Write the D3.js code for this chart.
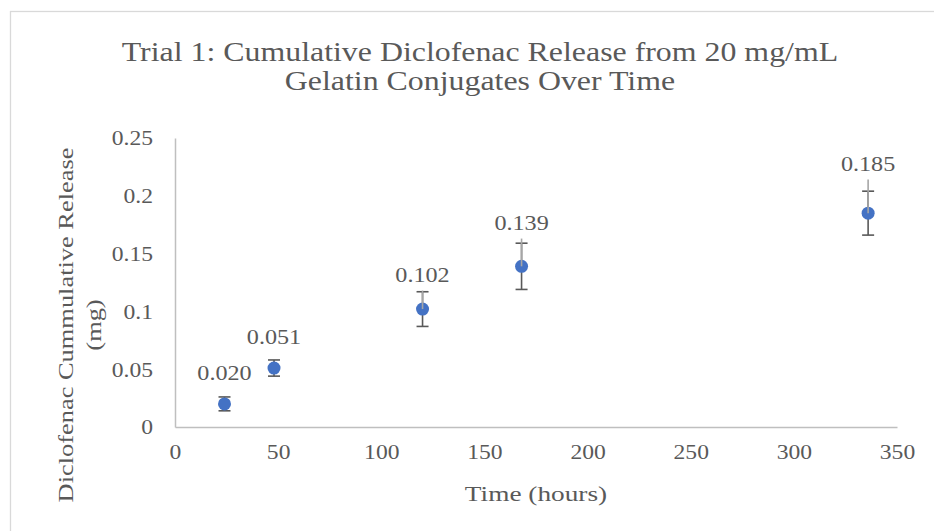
<!DOCTYPE html>
<html>
<head>
<meta charset="utf-8">
<script src="https://cdn.jsdelivr.net/npm/d3@7"></script>
<style>
  html, body { margin: 0; padding: 0; background: #fff; }
  svg { display: block; }
</style>
</head>
<body>
<div id="chart"></div>
<script>
(function () {
  'use strict';

  // ── Data ──
  var hours = [24, 48, 120, 168, 336];
  var release = [0.020, 0.051, 0.102, 0.139, 0.185];
  var errorBar = [0.006, 0.007, 0.015, 0.020, 0.019];
  var upperLine = [0, 0, 0.016, 0.024, 0.029];
  var xTicks = [0, 50, 100, 150, 200, 250, 300, 350];
  var yTicks = [0, 0.05, 0.1, 0.15, 0.2, 0.25];
  var yTickLabels = ['0', '0.05', '0.1', '0.15', '0.2', '0.25'];

  var titleLines = ['Trial 1: Cumulative Diclofenac Release from 20 mg/mL', 'Gelatin Conjugates Over Time'];
  var xTitle = 'Time (hours)';
  var yTitleLines = ['Diclofenac Cummulative Release', '(mg)'];

  // ── Constants ──
  var WIDTH = 934;
  var HEIGHT = 531;
  var PLOT = { left: 175, right: 897, top: 138, bottom: 427 };
  var FONT = '"Liberation Serif", "Times New Roman", serif';
  var TEXT_COLOR = '#595959';
  var AXIS_COLOR = '#bfbfbf';
  var MARKER_COLOR = '#4472c4';
  var ERR_COLOR = '#595959';
  var LINE_COLOR = '#a6a6a6';

  var data = hours.map(function (h, i) {
    return { h: h, v: release[i], e: errorBar[i], up: upperLine[i] };
  });

  // widen text along its baseline (the original serif face runs wider)
  function stretch(sel, factor) {
    sel.each(function () {
      var len = this.getComputedTextLength();
      d3.select(this)
        .attr('textLength', len * factor)
        .attr('lengthAdjust', 'spacingAndGlyphs');
    });
  }

  var svg = d3.select('#chart').append('svg')
    .attr('width', WIDTH)
    .attr('height', HEIGHT);

  // chart area border
  svg.append('rect')
    .attr('x', 10.5).attr('y', 11.5)
    .attr('width', WIDTH + 20).attr('height', HEIGHT + 20)
    .attr('fill', '#fff')
    .attr('stroke', '#d9d9d9')
    .attr('stroke-width', 1.3);

  var x = d3.scaleLinear().domain([0, 350]).range([PLOT.left, PLOT.right]);
  var y = d3.scaleLinear().domain([0, 0.25]).range([PLOT.bottom, PLOT.top]);

  // ── Axes ──
  var xG = svg.append('g')
    .attr('transform', 'translate(0,' + PLOT.bottom + ')')
    .call(d3.axisBottom(x).tickValues(xTicks).tickSize(0).tickFormat(d3.format('d')));
  xG.selectAll('.tick text')
    .attr('y', 32).attr('dy', null)
    .attr('font-size', '20px');

  var yG = svg.append('g')
    .attr('transform', 'translate(' + PLOT.left + ',0)')
    .call(d3.axisLeft(y).tickValues(yTicks).tickSize(0)
      .tickFormat(function (d, i) { return yTickLabels[i]; }));
  yG.selectAll('.tick text')
    .attr('x', -22)
    .attr('dy', '0.34em')
    .attr('font-size', '20px');

  [xG, yG].forEach(function (ax) {
    ax.attr('font-family', FONT);
    ax.selectAll('.tick text').attr('fill', TEXT_COLOR);
    ax.select('.domain').attr('stroke', AXIS_COLOR).attr('stroke-width', 1.5);
  });

  // ── Error bars ──
  var CAP = 6;
  var errG = svg.append('g').attr('stroke', ERR_COLOR).attr('stroke-width', 1.6);
  data.forEach(function (d) {
    var cx = x(d.h);
    var y0 = y(d.v - d.e);
    var y1 = y(d.v + d.e);
    errG.append('line').attr('x1', cx).attr('x2', cx).attr('y1', y0).attr('y2', y1);
    errG.append('line').attr('x1', cx - CAP).attr('x2', cx + CAP).attr('y1', y0).attr('y2', y0);
    errG.append('line').attr('x1', cx - CAP).attr('x2', cx + CAP).attr('y1', y1).attr('y2', y1);
  });

  // ── Markers ──
  svg.append('g').selectAll('circle')
    .data(data)
    .join('circle')
    .attr('cx', function (d) { return x(d.h); })
    .attr('cy', function (d) { return y(d.v); })
    .attr('r', 6.5)
    .attr('fill', MARKER_COLOR);

  // light line running up from the point
  svg.append('g').selectAll('line')
    .data(data.filter(function (d) { return d.up > 0; }))
    .join('line')
    .attr('x1', function (d) { return x(d.h); })
    .attr('x2', function (d) { return x(d.h); })
    .attr('y1', function (d) { return y(d.v); })
    .attr('y2', function (d) { return y(d.v + d.up); })
    .attr('stroke', LINE_COLOR)
    .attr('stroke-width', 1.6);

  // ── Data labels ──
  var labels = svg.append('g').selectAll('text')
    .data(data)
    .join('text')
    .attr('x', function (d) { return x(d.h); })
    .attr('y', function (d) {
      var top = d.v + Math.max(d.e, d.up);
      return Math.min(y(d.v) - 24, y(top) - 9);
    })
    .attr('text-anchor', 'middle')
    .attr('font-family', FONT)
    .attr('font-size', '21px')
    .attr('fill', TEXT_COLOR)
    .text(function (d) { return d3.format('.3f')(d.v); });

  // ── Titles ──
  var title = svg.append('g').selectAll('text')
    .data(titleLines)
    .join('text')
    .attr('x', 480)
    .attr('y', function (d, i) { return 61 + i * 29; })
    .attr('text-anchor', 'middle')
    .attr('font-family', FONT)
    .attr('font-size', '27px')
    .attr('fill', TEXT_COLOR)
    .text(function (d) { return d; });

  var xLabel = svg.append('text')
    .attr('x', (PLOT.left + PLOT.right) / 2)
    .attr('y', 501)
    .attr('text-anchor', 'middle')
    .attr('font-family', FONT)
    .attr('font-size', '22px')
    .attr('fill', TEXT_COLOR)
    .text(xTitle);

  var yLabel = svg.append('g')
    .attr('transform', 'translate(0,325) rotate(-90)')
    .selectAll('text')
    .data(yTitleLines)
    .join('text')
    .attr('x', 0)
    .attr('y', function (d, i) { return 73 + i * 28; })
    .attr('text-anchor', 'middle')
    .attr('font-family', FONT)
    .attr('font-size', '22px')
    .attr('fill', TEXT_COLOR)
    .text(function (d) { return d; });

  stretch(title, 1.18);
  stretch(xG.selectAll('.tick text'), 1.18);
  stretch(yG.selectAll('.tick text'), 1.18);
  stretch(labels, 1.15);
  stretch(xLabel, 1.24);
  stretch(yLabel, 1.2);
})();
</script>
</body>
</html>
